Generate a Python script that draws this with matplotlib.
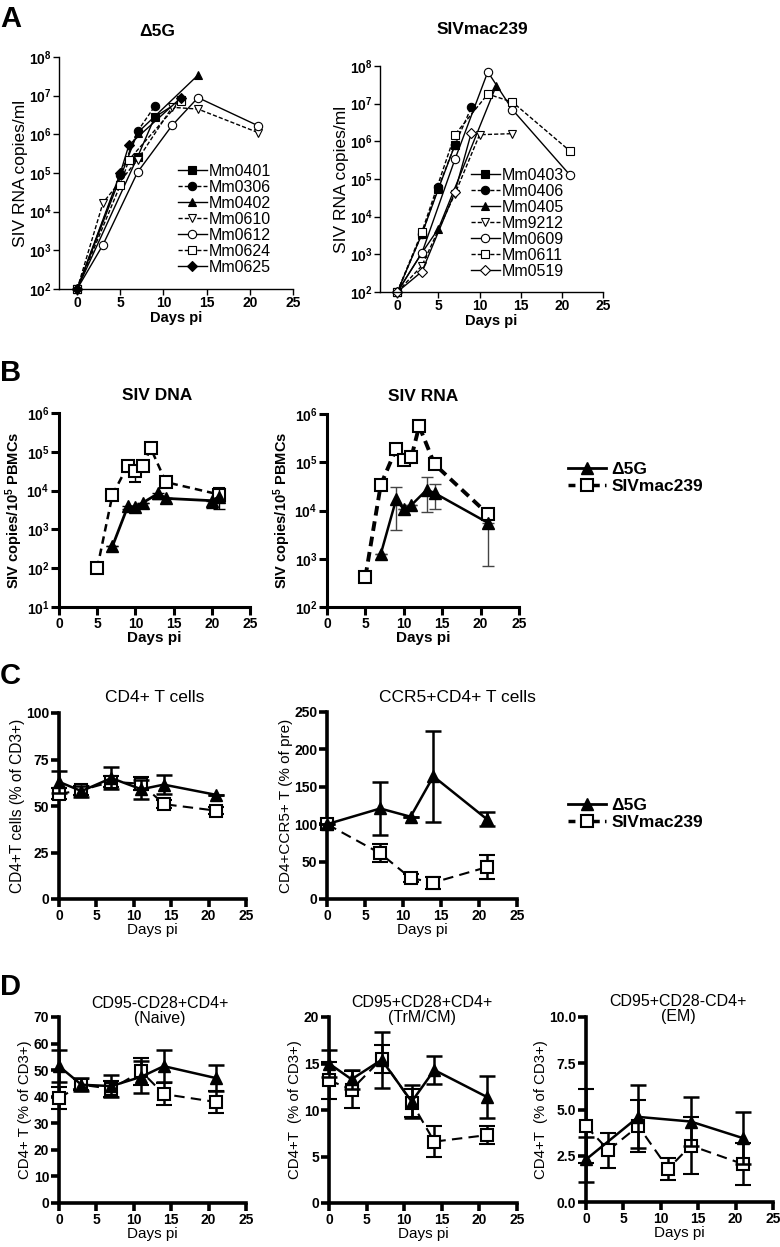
import matplotlib
matplotlib.use("Agg")
import matplotlib.pyplot as plt
from matplotlib.lines import Line2D
from matplotlib.ticker import LogLocator, NullLocator, MultipleLocator, FormatStrFormatter

plt.rcParams['font.family'] = ['Liberation Sans', 'DejaVu Sans']
plt.rcParams['mathtext.fontset'] = 'custom'
plt.rcParams['mathtext.rm'] = 'Liberation Sans'
plt.rcParams['mathtext.bf'] = 'Liberation Sans:bold'
plt.rcParams['mathtext.default'] = 'bf'

# ---- panel A: plasma viral load per animal ----
a_left_names = ["Mm0401", "Mm0306", "Mm0402", "Mm0610", "Mm0612", "Mm0624", "Mm0625"]
a_left_days = [[0, 7, 9, 12], [0, 5, 7, 9], [0, 7, 14], [0, 3, 7, 11, 14, 21],
               [0, 3, 7, 11, 14, 21], [0, 5, 6, 12], [0, 5, 6, 12]]
a_left_vals = [[100, 2.6e5, 2.8e6, 7.5e6], [100, 9e4, 1.2e6, 5.4e6], [100, 1.1e6, 3.4e7],
               [100, 1.7e4, 2.2e5, 5e6, 4.5e6, 1.1e6], [100, 1.4e3, 1.05e5, 1.7e6, 8.9e6, 1.65e6],
               [100, 4.9e4, 2.2e5, 7.4e6], [100, 1e5, 5.3e5, 8.7e6]]

a_right_names = ["Mm0403", "Mm0406", "Mm0405", "Mm9212", "Mm0609", "Mm0611", "Mm0519"]
a_right_days = [[0, 3, 5, 7], [0, 3, 5, 7, 9], [0, 3, 5, 12], [0, 3, 7, 10, 14],
                [0, 3, 7, 11, 14, 21], [0, 3, 7, 11, 14, 21], [0, 3, 7, 9]]
a_right_vals = [[100, 3.5e3, 5.5e4, 8e5], [100, 3.5e3, 6e4, 8e5, 8e6], [100, 1.1e3, 4.8e3, 2.9e7],
                [100, 500, 4e4, 1.5e6, 1.6e6], [100, 1.1e3, 3.3e5, 7e7, 6.9e6, 1.26e5],
                [100, 4e3, 1.5e6, 1.8e7, 1.1e7, 5.5e5], [100, 350, 4.5e4, 1.7e6]]

# marker, filled, linestyle
a_styles = [("s", True, "-"), ("o", True, "--"), ("^", True, "-"), ("v", False, "--"),
            ("o", False, "-"), ("s", False, "--"), ("D", True, "-")]
a_styles_right = a_styles[:6] + [("D", False, "-")]

# ---- panel B: cell associated SIV ----
dna_days_siv = [5, 7, 9, 10, 11, 12, 14, 21]
dna_siv = [100, 7.8e3, 4.4e4, 3.2e4, 4.4e4, 1.24e5, 1.65e4, 7.9e3]
dna_siv_lo = [100, 7.8e3, 4.4e4, 1.65e4, 4.4e4, 1.24e5, 1.65e4, 7.9e3]
dna_siv_hi = [100, 7.8e3, 4.4e4, 3.2e4, 4.4e4, 1.24e5, 1.65e4, 1.15e4]
dna_days_d5g = [7, 9, 10, 11, 13, 14, 20, 21]
dna_d5g = [370, 3.9e3, 3.8e3, 4.9e3, 8.5e3, 6.3e3, 5.5e3, 7e3]
dna_d5g_lo = [370, 3.3e3, 3.8e3, 4.9e3, 6e3, 6.3e3, 3.5e3, 3.3e3]
dna_d5g_hi = [370, 3.9e3, 3.8e3, 4.9e3, 8.5e3, 6.3e3, 5.5e3, 1.2e4]

rna_days_siv = [5, 7, 9, 10, 11, 12, 14, 21]
rna_siv = [420, 3.4e4, 1.9e5, 1.1e5, 1.3e5, 5.6e5, 9.1e4, 8.3e3]
rna_days_d5g = [7, 9, 10, 11, 13, 14, 21]
rna_d5g = [1.25e3, 1.7e4, 1.05e4, 1.3e4, 2.7e4, 2.3e4, 5.5e3]
rna_d5g_lo = [1.25e3, 4e3, 1.05e4, 1.3e4, 9.3e3, 1.1e4, 700]
rna_d5g_hi = [1.25e3, 3e4, 1.05e4, 1.3e4, 5e4, 3.6e4, 5.5e3]

# ---- panel C ----
c_days = [0, 3, 7, 11, 14, 21]
cd4_d5g = [63, 58, 65, 59, 61.5, 56]
cd4_d5g_err = [6, 3, 6, 5, 5, 0]
cd4_siv = [56.5, 58.5, 63, 62, 51, 47.5]
cd4_siv_err = [3, 2.5, 3, 3.5, 2, 2]
ccr5_days = [0, 7, 11, 14, 21]
ccr5_d5g = [100, 121, 110, 164, 107]
ccr5_d5g_err = [0, 36, 0, 61, 9]
ccr5_siv = [100, 61, 28, 22, 42.5]
ccr5_siv_err = [0, 12, 5, 8, 16]

# ---- panel D ----
d_days = [0, 3, 7, 11, 14, 21]
naive_d5g = [51.5, 44.5, 44, 47.5, 51.5, 47]
naive_d5g_err = [6, 2.5, 4, 6, 6, 5]
naive_siv = [39.5, 44.5, 43, 49.5, 41, 38]
naive_siv_err = [4, 2, 3, 5, 4, 4]
cm_d5g = [15, 13.3, 15.4, 10.9, 14.3, 11.4]
cm_d5g_err = [1.5, 1, 3, 1.8, 1.5, 2.3]
cm_siv = [13.2, 12.2, 15.5, 10.8, 6.6, 7.3]
cm_siv_err = [2, 2, 1.5, 1.5, 1.7, 1]
em_days_d5g = [0, 7, 14, 21]
em_d5g = [2.3, 4.6, 4.35, 3.45]
em_d5g_err = [1.2, 1.7, 1.3, 1.4]
em_siv = [4.1, 2.8, 4.1, 1.8, 3.05, 2.05]
em_siv_err = [2, 0.95, 1.4, 0.6, 1.55, 1.15]

W, H = 780, 1247
fig = plt.figure(figsize=(W / 100, H / 100), dpi=100)


def px_axes(x0, y0, x1, y1):
    return fig.add_axes([x0 / W, 1 - y1 / H, (x1 - x0) / W, (y1 - y0) / H])


def ftext(x, y, s, **kw):
    fig.text(x / W, 1 - y / H, s, **kw)


def style(ax, lw, tl, bold):
    for s in ["top", "right"]:
        ax.spines[s].set_visible(False)
    for s in ["left", "bottom"]:
        ax.spines[s].set_linewidth(lw)
    ax.tick_params(width=lw, length=tl, labelsize=10, pad=1)
    if bold:
        for lab in ax.get_xticklabels() + ax.get_yticklabels():
            lab.set_fontweight("bold")


def panel_a(ax, names, days, vals, styles, lx, ly):
    for n, d, v, (m, filled, ls) in zip(names, days, vals, styles):
        ms = 5 if m == "D" else 6
        ax.plot(d, v, ls=ls, marker=m, color="black", lw=1.0, ms=ms,
                mfc="black" if filled else "white", mec="black", mew=0.8,
                label=n, dashes=(3, 1.5) if ls == "--" else (None, None), clip_on=False)
    ax.set_yscale("log")
    ax.set_ylim(100, 1e8)
    ax.set_xlim(-2.1, 25)
    ax.set_xticks([0, 5, 10, 15, 20, 25])
    ax.yaxis.set_major_locator(LogLocator(base=10, numticks=10))
    ax.yaxis.set_minor_locator(NullLocator())
    style(ax, 1.0, 4, True)
    ax.set_ylabel("SIV RNA copies/ml", fontsize=12.5, labelpad=1)
    ax.set_xlabel("Days pi", fontsize=10.5, fontweight="bold", labelpad=1)
    ax.legend(loc="upper left", bbox_to_anchor=(lx / W, 1 - ly / H), bbox_transform=fig.transFigure,
              frameon=False, fontsize=11.5, handlelength=1.8, handletextpad=0.15,
              labelspacing=0.06, borderpad=0, borderaxespad=0)


axA1 = px_axes(59, 57, 293, 289)
panel_a(axA1, a_left_names, a_left_days, a_left_vals, a_styles, 178, 164)
axA2 = px_axes(380, 66, 603, 292)
panel_a(axA2, a_right_names, a_right_days, a_right_vals, a_styles_right, 471, 168)


def errs(v, lo, hi):
    return [[a - b for a, b in zip(v, lo)], [b - a for a, b in zip(v, hi)]]


# ---- B ----
axB1 = px_axes(59, 413, 250, 607)
axB1.errorbar(dna_days_siv, dna_siv, yerr=errs(dna_siv, dna_siv_lo, dna_siv_hi), color="black",
              ls="--", dashes=(3, 2), lw=1.8, marker="s", ms=9, mfc="white", mec="black", mew=1.5,
              elinewidth=1, capsize=4, zorder=3)
axB1.errorbar(dna_days_d5g, dna_d5g, yerr=errs(dna_d5g, dna_d5g_lo, dna_d5g_hi), color="black",
              ls="-", lw=2, marker="^", ms=9, elinewidth=1, capsize=4, zorder=4)
axB1.set_yscale("log")
axB1.set_ylim(10, 1e6)
axB2 = px_axes(327, 414, 519, 607)
axB2.errorbar(rna_days_siv, rna_siv, color="black", ls="--", dashes=(2.5, 1.5), lw=2.8,
              marker="s", ms=9, mfc="white", mec="black", mew=1.5, zorder=3)
axB2.errorbar(rna_days_d5g, rna_d5g, yerr=errs(rna_d5g, rna_d5g_lo, rna_d5g_hi), color="black",
              ls="-", lw=1.8, marker="^", ms=9, elinewidth=1, ecolor="#444444", capsize=4, zorder=4)
axB2.set_yscale("log")
axB2.set_ylim(100, 1e6)
for ax in (axB1, axB2):
    ax.set_xlim(0, 25)
    ax.set_xticks([0, 5, 10, 15, 20, 25])
    ax.yaxis.set_major_locator(LogLocator(base=10, numticks=10))
    ax.yaxis.set_minor_locator(NullLocator())
    style(ax, 2.2, 6, True)
    ax.set_ylabel("SIV copies/10$^5$ PBMCs", fontsize=10.5, fontweight="bold", labelpad=1)
    ax.set_xlabel("Days pi", fontsize=11, fontweight="bold", labelpad=0)


def group_legend(y):
    h1 = Line2D([], [], color="black", lw=2, marker="^", ms=9)
    h2 = Line2D([], [], color="black", lw=2.5, ls="--", dashes=(2, 1.5), marker="s", ms=9,
                mfc="white", mew=1.5)
    fig.legend([h1, h2], ["\u03945G", "SIVmac239"], loc="upper left",
               bbox_to_anchor=(568 / W, 1 - y / H), frameon=False, handlelength=2.2,
               handletextpad=0.3, labelspacing=0.1, borderpad=0, borderaxespad=0,
               prop={"weight": "bold", "size": 12.5})


group_legend(462)


# ---- C and D ----
def lin_panel(ax, days_a, ya, ea, days_b, yb, eb, ymax, step, fmt=None):
    ax.errorbar(days_b, yb, yerr=eb, color="black", ls="--", dashes=(5, 3), lw=1.5, marker="s",
                ms=8, mfc="white", mec="black", mew=1.5, elinewidth=1.8, capsize=6, capthick=1.8,
                zorder=3, clip_on=False)
    ax.errorbar(days_a, ya, yerr=ea, color="black", ls="-", lw=1.8, marker="^", ms=8,
                elinewidth=1.8, capsize=6, capthick=1.8, zorder=4, clip_on=False)
    ax.set_xlim(0, 25)
    ax.set_ylim(0, ymax)
    ax.set_xticks([0, 5, 10, 15, 20, 25])
    ax.yaxis.set_major_locator(MultipleLocator(step))
    if fmt:
        ax.yaxis.set_major_formatter(fmt)
    style(ax, 2.6, 6, True)
    ax.set_xlabel("Days pi", fontsize=11, labelpad=0)


axC1 = px_axes(59, 713, 246, 899)
lin_panel(axC1, c_days, cd4_d5g, cd4_d5g_err, c_days, cd4_siv, cd4_siv_err, 100, 25)
axC1.set_ylabel("CD4+T cells (% of CD3+)", fontsize=11.2, labelpad=1)
axC2 = px_axes(327, 712, 517, 899)
lin_panel(axC2, ccr5_days, ccr5_d5g, ccr5_d5g_err, ccr5_days, ccr5_siv, ccr5_siv_err, 250, 50)
axC2.set_ylabel("CD4+CCR5+ T (% of pre)", fontsize=11, labelpad=1)
group_legend(798)

axD1 = px_axes(59, 1017, 246, 1203)
lin_panel(axD1, d_days, naive_d5g, naive_d5g_err, d_days, naive_siv, naive_siv_err, 70, 10)
axD1.set_ylabel("CD4+ T (% of CD3+)", fontsize=10.8, labelpad=1)
axD2 = px_axes(329, 1017, 517, 1203)
lin_panel(axD2, d_days, cm_d5g, cm_d5g_err, d_days, cm_siv, cm_siv_err, 20, 5)
axD2.set_ylabel("CD4+T  (% of CD3+)", fontsize=10.8, labelpad=1)
axD3 = px_axes(586, 1017, 773, 1202)
lin_panel(axD3, em_days_d5g, em_d5g, em_d5g_err, d_days, em_siv, em_siv_err, 10, 2.5,
          fmt=FormatStrFormatter("%.1f"))
for lab in axD3.get_yticklabels():
    lab.set_fontweight("bold")
axD3.set_ylabel("CD4+T  (% of CD3+)", fontsize=10.8, labelpad=1)

# ---- titles and panel letters ----
ftext(157, 32, "\u03945G", ha="center", va="center", fontsize=12.5, fontweight="bold")
ftext(482, 30, "SIVmac239", ha="center", va="center", fontsize=12.5, fontweight="bold")
ftext(157, 395, "SIV DNA", ha="center", va="center", fontsize=12.5, fontweight="bold")
ftext(423, 396, "SIV RNA", ha="center", va="center", fontsize=12.5, fontweight="bold")
ftext(155, 697, "CD4+ T cells", ha="center", va="center", fontsize=12.5)
ftext(457, 697, "CCR5+CD4+ T cells", ha="center", va="center", fontsize=12.5)
ftext(160, 1011, "CD95-CD28+CD4+\n(Naive)", ha="center", va="center", fontsize=11.5,
      linespacing=1.05)
ftext(422, 1010, "CD95+CD28+CD4+\n(TrM/CM)", ha="center", va="center", fontsize=11.5,
      linespacing=1.05)
ftext(678, 1009, "CD95+CD28-CD4+\n(EM)", ha="center", va="center", fontsize=11.5,
      linespacing=1.05)
for letter, y in [("A", 5), ("B", 359), ("C", 662), ("D", 973)]:
    ftext(0, y, letter, ha="left", va="top", fontsize=21, fontweight="bold")

fig.savefig("out.png", dpi=100)
